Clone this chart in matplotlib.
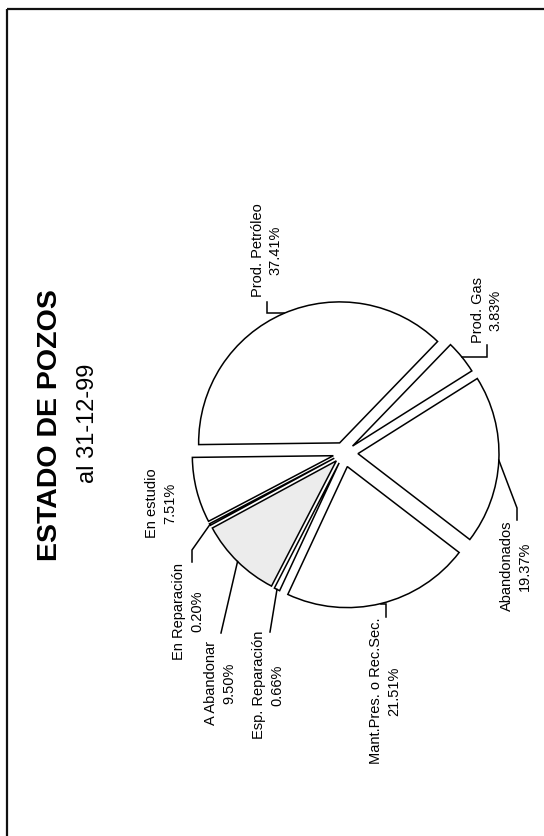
import numpy as np
import matplotlib
matplotlib.use('Agg')
import matplotlib.pyplot as plt
from matplotlib.patches import Rectangle

plt.rcParams['font.family'] = ['Liberation Sans', 'DejaVu Sans']

# well status at 31-12-99 (page is turned 90 degrees, as in the scan)
labels = ['Prod. Petróleo', 'En estudio', 'En Reparación', 'A Abandonar',
          'Esp. Reparación', 'Mant.Pres. o Rec.Sec.', 'Abandonados', 'Prod. Gas']
shares = [37.41, 7.51, 0.20, 9.50, 0.66, 21.51, 19.37, 3.83]

title = 'ESTADO DE POZOS'
subtitle = 'al 31-12-99'

# styling / layout (pixel coords of the page)
fills = ['white', 'white', 'white', '#ececec', 'white', 'white', 'white', 'white']
explode = [11, 11, 11, 11, 11, 14, 14, 11]   # pie offsets are in data units (px here)
label_xy = [(267, 250), (161, 503), (188, 611), (220, 683),
            (268, 685), (385, 691), (516, 566), (487, 310)]
# leader: ('h', knee_x, end_y) = across then down/up, ('p', knee, end_y) = to point then down
leaders = [('h', 267, 302), None, ('p', (192, 550), 562), ('p', (221, 633), None),
           ('p', (270, 632), None), ('h', 386, 617), ('p', (517, 508), 520), ('h', 487, 345)]

fig = plt.figure(figsize=(5.44, 8.36), dpi=100)
ax = fig.add_axes([0, 0, 1, 1])

wedges, _ = ax.pie(shares, explode=explode, colors=fills, startangle=-46,
                   counterclock=False, radius=141, center=(344, 453),
                   wedgeprops=dict(edgecolor='black', linewidth=1.1))

ax.set_xlim(0, 544)
ax.set_ylim(836, 0)
ax.set_aspect('equal')
ax.axis('off')

for w, lab, val, (tx, ty), ld in zip(wedges, labels, shares, label_xy, leaders):
    ax.text(tx, ty, '%s\n%.2f%%' % (lab, val), rotation=90, ha='center', va='center',
            multialignment='center', fontsize=10.5, linespacing=1.35)
    if ld is None:
        continue
    mid = np.deg2rad((w.theta1 + w.theta2) / 2)
    cx, cy = w.center
    ax0, ay0 = cx + w.r * np.cos(mid), cy + w.r * np.sin(mid)
    if ld[0] == 'h':
        xs = [ax0, ld[1], ld[1]]
        ys = [ay0, ay0, ld[2]]
    else:
        kx, ky = ld[1]
        xs = [ax0, kx]
        ys = [ay0, ky]
        if ld[2] is not None:
            xs.append(kx)
            ys.append(ld[2])
    ax.plot(xs, ys, color='black', linewidth=1.1, solid_joinstyle='miter')

ax.text(50, 425, title, rotation=90, ha='center', va='center',
        fontsize=20.5, fontweight='bold')
ax.text(88, 423, subtitle, rotation=90, ha='center', va='center', fontsize=17)

# page frame (only top and left edges are inside the scan)
ax.add_patch(Rectangle((7, 9), 800, 1000, fill=False, edgecolor='#111111', linewidth=1.6))

fig.savefig('out.png', dpi=100)
